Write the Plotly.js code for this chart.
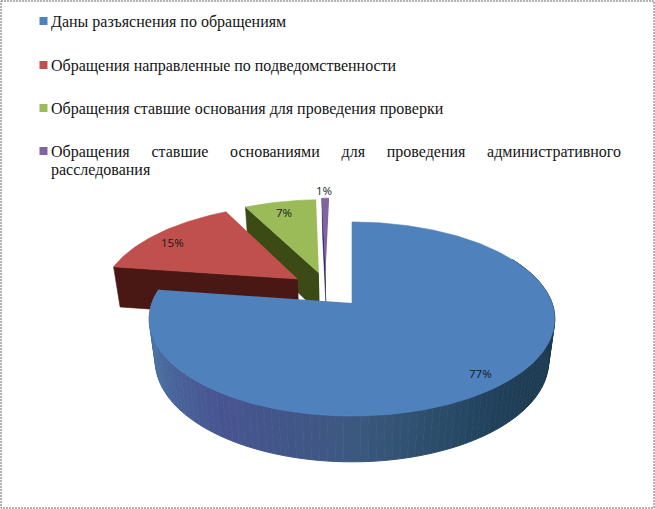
<!DOCTYPE html>
<html><head><meta charset="utf-8">
<script src="https://cdn.plot.ly/plotly-3.0.1.min.js"></script>
<style>html,body{margin:0;padding:0;background:#fff}#c{width:655px;height:509px}</style>
</head><body><div id="c"></div>
<script>
// DATA
const categories = [
  "Даны разъяснения по обращениям",
  "Обращения направленные по подведомственности",
  "Обращения ставшие основания для проведения проверки",
  "Обращения ставшие основаниями для проведения административного<br>расследования"
];
const values = [77.3, 15, 7, 0.7];
const topColors = ["#4f81bd", "#c0504d", "#9bbb59", "#8064a2"];
const sideColors = ["#3d5a85", "#4a1814", "#3c4a16", "#2a1a50"];

// Projection of the 3-D pie: disc units -> axis units
const OX = 352, OY = 303, A = 200, B = 94.4, K = 0.165, M = 0.03, D = 43;
const explode = [[0, 0], [-0.283, 0.2655], [-0.175, 0.336], [-0.14, 0.36]];
function proj(U, V, bottom) {
  const w = 1 + K * V + (bottom ? M : 0);
  return [OX + A * U / w, OY + (-B * V + (bottom ? D : 0)) / w];
}
const rim = (i, deg, bottom) => {
  const t = deg * Math.PI / 180;
  return proj(explode[i][0] + Math.sin(t), explode[i][1] + Math.cos(t), bottom);
};
const apex = (i, bottom) => proj(explode[i][0], explode[i][1], bottom);

const total = values.reduce((a, b) => a + b, 0);
let acc = 0;
const spans = values.map(v => { const s = acc; acc += v; return [s / total * 360, acc / total * 360]; });

function poly(points, color, name, width) {
  return {
    type: "scatter", mode: "lines", fill: "toself", fillcolor: color,
    x: points.map(p => p[0]), y: points.map(p => p[1]),
    line: {color: color, width: width === undefined ? 0.6 : width},
    hoverinfo: "skip", showlegend: false, name: name
  };
}
function arc(i, a0, a1, bottom) {
  const n = Math.max(2, Math.ceil(Math.abs(a1 - a0)));
  const out = [];
  for (let k = 0; k <= n; k++) out.push(rim(i, a0 + (a1 - a0) * k / n, bottom));
  return out;
}
const traces = [];
// back to front: purple, green, red, blue
for (const i of [3, 2, 1]) {
  const s = spans[i][0];
  traces.push(poly([apex(i, false), rim(i, s, false), rim(i, s, true), apex(i, true)], sideColors[i], categories[i] + " side"));
  traces.push(poly([apex(i, false)].concat(arc(i, spans[i][0], spans[i][1], false)), topColors[i], categories[i]));
}
// blue wall, strips shaded along the rim
const shade = [[60,[28,56,78]],[115,[28,58,80]],[140,[32,64,90]],[160,[44,78,108]],[180,[60,88,128]],[215,[72,84,146]],[245,[72,108,158]],[280,[78,124,176]]];
function shadeAt(d) {
  for (let j = 1; j < shade.length; j++) {
    if (d <= shade[j][0]) {
      const f = (d - shade[j-1][0]) / (shade[j][0] - shade[j-1][0]);
      const c = shade[j-1][1].map((v, q) => Math.round(v + (shade[j][1][q] - v) * f));
      return "rgb(" + c.join(",") + ")";
    }
  }
  return "rgb(78,124,176)";
}
for (let d = 60; d < spans[0][1]; d += 2) {
  const e = Math.min(d + 2, spans[0][1]);
  const top = arc(0, d, e, false), bot = arc(0, e, d, true);
  traces.push(poly(top.concat(bot), shadeAt(d + 1), categories[0] + " side", 1));
}
traces.push(poly([apex(0, false)].concat(arc(0, spans[0][0], spans[0][1], false)), topColors[0], categories[0]));

// legend keys
const rowKeyY = [21, 65, 108, 151];
categories.forEach((c, i) => traces.push({
  type: "scatter", mode: "markers", x: [43.5], y: [rowKeyY[i]], name: c, showlegend: false, hoverinfo: "skip",
  marker: {symbol: "square", size: 8, color: topColors[i], line: {width: 0}}
}));

const annotations = categories.map((c, i) => ({
  x: 50, y: rowKeyY[i] - 9, xref: "x", yref: "y", xanchor: "left", yanchor: "top", align: "left",
  text: c, showarrow: false, borderpad: 0,
  font: {family: "Liberation Serif, serif", size: 16, color: "#141414"}
}));
const labelPos = [[480, 373], [172, 242], [284, 212], [324, 190]];
values.forEach((v, i) => annotations.push({
  x: labelPos[i][0], y: labelPos[i][1], xref: "x", yref: "y", showarrow: false,
  text: Math.round(v) + "%",
  font: {family: "Open Sans, Liberation Sans, sans-serif", size: 11.5, color: "#1a1a1a"}
}));

const layout = {
  width: 655, height: 509, margin: {l: 0, r: 0, t: 0, b: 0},
  paper_bgcolor: "#fff", plot_bgcolor: "#fff", showlegend: false,
  xaxis: {visible: false, range: [0, 655], fixedrange: true},
  yaxis: {visible: false, range: [509, 0], fixedrange: true},
  annotations: annotations,
  shapes: [{type: "rect", xref: "x", yref: "y", x0: 1, y0: 1, x1: 654, y1: 508,
    line: {color: "#666", width: 1, dash: "2px,1px"}}]
};
Plotly.newPlot("c", traces, layout, {displayModeBar: false, staticPlot: true}).then(() => {
  // justified first line of the wrapped legend entry, 18px leading
  document.querySelectorAll(".annotation-text").forEach(t => {
    if (t.textContent.indexOf("административного") < 0) return;
    const lines = t.querySelectorAll("tspan.line");
    const first = lines[0], second = lines[1];
    const words = first.textContent.trim().split(/\s+/).length;
    first.style.wordSpacing = ((570 - first.getComputedTextLength()) / (words - 1)) + "px";
    second.setAttribute("dy", "18px");
  });
});
</script></body></html>
